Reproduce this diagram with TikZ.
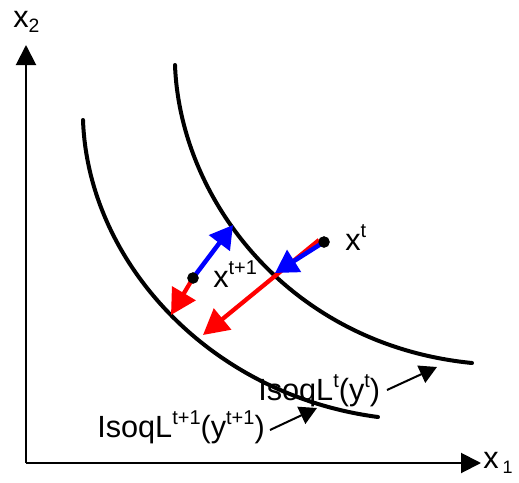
\documentclass[tikz,border=0pt]{standalone}
\usepackage{fontspec}
\setmainfont{Liberation Sans}
\usetikzlibrary{arrows.meta}
\newcommand\spx[1]{\raisebox{9.5pt}{\fontsize{15}{15}\selectfont #1}}
\begin{document}
\begin{tikzpicture}[x=0.75pt,y=-0.75pt,
  curve/.style={line width=3pt,line cap=round},
  axis/.style={line width=1.5pt,-{Triangle[length=15pt,width=15pt]}},
  redarrow/.style={draw=red,line width=3.2pt,-{Triangle[length=19pt,width=20pt]},red},
  bluearrow/.style={draw=blue,line width=3.4pt,-{Triangle[length=17pt,width=19pt]},blue},
  pointer/.style={line width=1.5pt,-{Triangle[length=13pt,width=14pt]}},
  dot/.style={circle,fill=black,inner sep=0pt,minimum size=8.5pt},
  lbl/.style={anchor=base west,inner sep=0pt,font=\fontsize{23}{27}\selectfont}]
\useasboundingbox (0,0) rectangle (519,483);
% axes
\coordinate (o) at (26,463);
\coordinate (ytip) at (26,45);
\coordinate (xtip) at (481,463);
\draw[axis] (o) -- (ytip);
\draw[axis] (o) -- (xtip);
\node[lbl] (x2) at (13,27) {x\raisebox{-3.75pt}{\fontsize{14.5}{15}\selectfont 2}};
\node[lbl] (x1) at (483,468) {x\hspace{3pt}\raisebox{-3.75pt}{\fontsize{13.5}{15}\selectfont 1}};
% isoquants
\coordinate (c1s) at (175,65);
\coordinate (c1e) at (472,363);
\coordinate (c2s) at (83,120);
\coordinate (c2e) at (378,417);
\draw[curve] (c1s) .. controls (180,200) and (290,345) .. (c1e);
\draw[curve] (c2s) .. controls (88,262) and (210,395) .. (c2e);
% points
\node[dot] (xt) at (324,242) {};
\node[dot] (xt1) at (193,278) {};
\coordinate (ra) at (203,335);
\coordinate (ba) at (275,273);
\coordinate (rb) at (171,315);
\coordinate (bb) at (233,225);
\draw[redarrow] (xt.center) ++(-5,-2) -- (ra);
\draw[bluearrow] (xt.center) -- (ba);
\draw[redarrow] (xt1.center) -- (rb);
\draw[bluearrow] (xt1.center) -- (bb);
\node[dot] at (xt) {};
\node[dot] at (xt1) {};
% labels
\node[lbl] (lxt) at (345,250) {x\spx{t}};
\node[lbl] (lxt1) at (213,287) {x\spx{t+1}};
\node[lbl] (iso1) at (258,400) {IsoqL\spx{t}(y\spx{t})};
\node[lbl] (iso2) at (97,437) {IsoqL\spx{t+1}(y\spx{t+1})};
\coordinate (p1s) at (387,390);
\coordinate (p1e) at (437,367);
\coordinate (p2s) at (270,430);
\coordinate (p2e) at (317,408);
\draw[pointer] (p1s) -- (p1e);
\draw[pointer] (p2s) -- (p2e);
\end{tikzpicture}
\end{document}
